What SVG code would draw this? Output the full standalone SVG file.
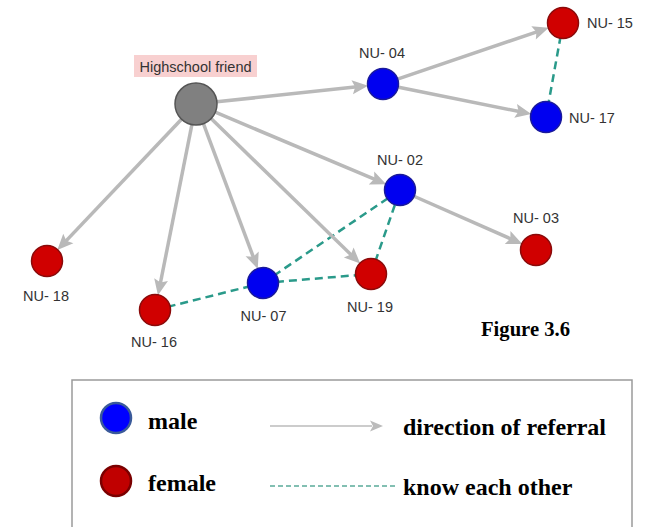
<svg xmlns="http://www.w3.org/2000/svg" width="647" height="527" viewBox="0 0 647 527">
  <style>
    .ref { stroke: #b9b9b9; stroke-width: 3.5; fill: none; marker-end: url(#arrow); }
    .know { stroke: #2a9a8a; stroke-width: 2.5; fill: none; stroke-dasharray: 8 5; }
    .male { fill: #0000f0; stroke: #1a1a9a; stroke-width: 1.5; }
    .female { fill: #d00000; stroke: #8a0a0a; stroke-width: 1.5; }
    .hub { fill: #808080; stroke: #555555; stroke-width: 1.5; }
    .lbl { font-family: "Liberation Sans", Arial, sans-serif; font-size: 14.5px; fill: #333333; }
    .mid { text-anchor: middle; }
    .key { font-family: "Liberation Serif", "Times New Roman", serif; font-weight: bold; font-size: 24px; fill: #000000; }
  </style>
  <defs>
    <marker id="arrow" markerUnits="userSpaceOnUse" markerWidth="20" markerHeight="16" viewBox="0 -8 18 16" refX="5" refY="0" orient="auto" overflow="visible">
      <path d="M0,-7 L16,0 L0,7 L3,0 z" fill="#b9b9b9"/>
    </marker>
    <marker id="arrowKey" markerUnits="userSpaceOnUse" markerWidth="16" markerHeight="14" viewBox="0 -7 16 14" refX="2" refY="0" orient="auto" overflow="visible">
      <path d="M0,-5.5 L13,0 L0,5.5 L3,0 z" fill="#bbbbbb"/>
    </marker>
  </defs>

  <!-- connectors: referrals (solid, arrowed) and acquaintances (dashed) -->
  <g id="connectors">
    <line class="know" x1="563" y1="23" x2="546" y2="117"/>
    <line class="know" x1="155" y1="310" x2="263" y2="283"/>
    <line class="know" x1="263" y1="283" x2="400" y2="190"/>
    <line class="know" x1="263" y1="283" x2="371" y2="274"/>
    <line class="know" x1="371" y1="274" x2="400" y2="190"/>

    <line class="ref" x1="216.9" y1="101.8" x2="357.2" y2="86.8"/>
    <line class="ref" x1="181.5" y1="119.2" x2="64.9" y2="242.1"/>
    <line class="ref" x1="191.9" y1="124.6" x2="160.1" y2="284.5"/>
    <line class="ref" x1="203.4" y1="123.7" x2="253.9" y2="258.6"/>
    <line class="ref" x1="211.1" y1="118.6" x2="352.3" y2="255.9"/>
    <line class="ref" x1="215.3" y1="112.2" x2="376.1" y2="179.9"/>
    <line class="ref" x1="398.2" y1="78.9" x2="538.3" y2="31.3"/>
    <line class="ref" x1="398.7" y1="87.2" x2="520.5" y2="111.8"/>
    <line class="ref" x1="414.6" y1="196.5" x2="512.2" y2="239.5"/>
  </g>

  <!-- people -->
  <g id="highschool-friend">
    <rect x="134" y="55" width="123" height="22" fill="#f8d0d0"/>
    <text class="lbl mid" x="195.5" y="72">Highschool friend</text>
    <circle class="hub" cx="196" cy="104" r="21"/>
  </g>
  <g id="nu-04">
    <circle class="male" cx="383" cy="84" r="15.5"/>
    <text class="lbl mid" x="382" y="58">NU- 04</text>
  </g>
  <g id="nu-15">
    <circle class="female" cx="563" cy="23" r="15.5"/>
    <text class="lbl" x="587" y="28">NU- 15</text>
  </g>
  <g id="nu-17">
    <circle class="male" cx="546" cy="117" r="15.5"/>
    <text class="lbl" x="569" y="123">NU- 17</text>
  </g>
  <g id="nu-02">
    <circle class="male" cx="400" cy="190" r="15.5"/>
    <text class="lbl mid" x="400" y="165">NU- 02</text>
  </g>
  <g id="nu-03">
    <circle class="female" cx="536" cy="250" r="15.5"/>
    <text class="lbl mid" x="536" y="223">NU- 03</text>
  </g>
  <g id="nu-18">
    <circle class="female" cx="47" cy="261" r="15.5"/>
    <text class="lbl mid" x="46" y="301">NU- 18</text>
  </g>
  <g id="nu-16">
    <circle class="female" cx="155" cy="310" r="15.5"/>
    <text class="lbl mid" x="154" y="347">NU- 16</text>
  </g>
  <g id="nu-07">
    <circle class="male" cx="263" cy="283" r="15.5"/>
    <text class="lbl mid" x="263.5" y="321">NU- 07</text>
  </g>
  <g id="nu-19">
    <circle class="female" cx="371" cy="274" r="15.5"/>
    <text class="lbl mid" x="370" y="312">NU- 19</text>
  </g>

  <text id="figure-caption" class="key" x="481" y="336" style="font-size:22px" textLength="89" lengthAdjust="spacingAndGlyphs">Figure 3.6</text>

  <!-- key -->
  <g id="legend">
    <rect x="72" y="380" width="560" height="160" fill="#ffffff" stroke="#9a9a9a" stroke-width="1.5"/>
    <circle cx="116" cy="418" r="15" fill="#0000ff" stroke="#3a5a9a" stroke-width="2.5"/>
    <text class="key" x="148" y="429">male</text>
    <circle cx="116" cy="481" r="15" fill="#c00000" stroke="#7a0000" stroke-width="2.5"/>
    <text class="key" x="148" y="491">female</text>
    <line x1="270" y1="426" x2="372" y2="426" stroke="#bbbbbb" stroke-width="1.5" marker-end="url(#arrowKey)"/>
    <text class="key" x="403" y="435">direction of referral</text>
    <line x1="270" y1="486" x2="396" y2="486" stroke="#5aaa99" stroke-width="1.5" stroke-dasharray="5 3"/>
    <text class="key" x="403" y="495">know each other</text>
  </g>
</svg>
